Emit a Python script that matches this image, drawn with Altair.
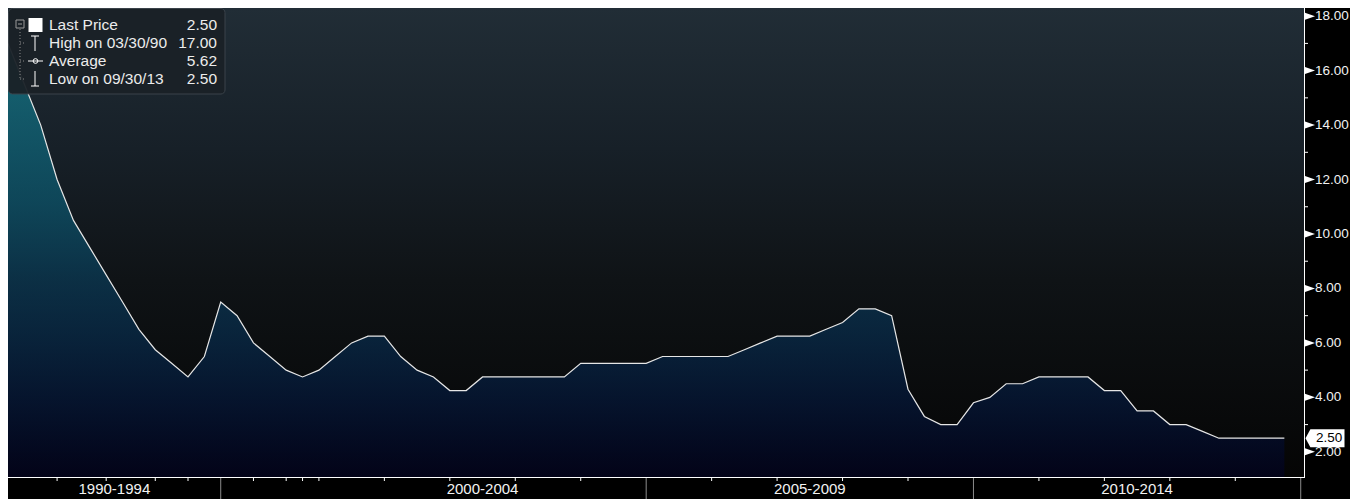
import altair as alt
import pandas as pd

# ---------------- data ----------------
rate = [17.0, 15.5, 14.0, 12.0, 10.5, 9.5, 8.5, 7.5, 6.5, 5.75,
        5.25, 4.75, 5.5, 7.5, 7.0, 6.0, 5.5, 5.0, 4.75, 5.0,
        5.5, 6.0, 6.25, 6.25, 5.5, 5.0, 4.75, 4.25, 4.25, 4.75,
        4.75, 4.75, 4.75, 4.75, 4.75, 5.25, 5.25, 5.25, 5.25, 5.25,
        5.5, 5.5, 5.5, 5.5, 5.5, 5.75, 6.0, 6.25, 6.25, 6.25,
        6.5, 6.75, 7.25, 7.25, 7.0, 4.3, 3.3, 3.0, 3.0, 3.8,
        4.0, 4.5, 4.5, 4.75, 4.75, 4.75, 4.75, 4.25, 4.25, 3.5,
        3.5, 3.0, 3.0, 2.75, 2.5, 2.5, 2.5, 2.5, 2.5]
obs = list(range(len(rate)))

y_ticks = [2, 4, 6, 8, 10, 12, 14, 16, 18]
y_minor = [3, 5, 7, 9, 11, 13, 15, 17]
sep_idx = [13, 39, 59, 79]
minor_idx = [3, 6, 9, 11, 15, 17, 18, 19, 23, 27, 31, 35, 43, 47, 51, 55, 63, 67, 71, 75]
period_labels = ["1990-1994", "2000-2004", "2005-2009", "2010-2014"]
period_centers = [6.5, 29, 49, 69]

legend_labels = ["Last Price", "High on 03/30/90", "Average", "Low on 09/30/13"]
legend_values = ["2.50", "17.00", "5.62", "2.50"]
last_price = 2.50

# ---------------- layout ----------------
W, H = 1296, 469
FONT = "Liberation Sans"
YMIN, YMAX = 1.075, 18.3
xs = alt.Scale(domain=[0, 79.2], nice=False, zero=False)
ys = alt.Scale(domain=[YMIN, YMAX], nice=False, zero=False)
one = pd.DataFrame({"d": [0]})

bg_grad = alt.LinearGradient(
    gradient="linear", x1=0, x2=0, y1=0, y2=1,
    stops=[alt.GradientStop(color="#212d36", offset=0),
           alt.GradientStop(color="#172028", offset=0.3),
           alt.GradientStop(color="#0f1316", offset=0.58),
           alt.GradientStop(color="#050505", offset=1)])

area_grad = alt.LinearGradient(
    gradient="linear", x1=0, x2=0, y1=0, y2=1,
    stops=[alt.GradientStop(color="#168592", offset=0),
           alt.GradientStop(color="#117486", offset=0.12),
           alt.GradientStop(color="#0c5870", offset=0.37),
           alt.GradientStop(color="#0a3b58", offset=0.55),
           alt.GradientStop(color="#072a4b", offset=0.69),
           alt.GradientStop(color="#04173a", offset=0.83),
           alt.GradientStop(color="#020220", offset=1)])

bg = alt.Chart(one).mark_rect(fill=bg_grad).encode(
    x=alt.value(0), x2=alt.value(W), y=alt.value(0), y2=alt.value(H))

df = pd.DataFrame({"i": obs, "rate": rate})
area = alt.Chart(df).mark_area(
    fill=area_grad,
    line=alt.OverlayMarkDef(color="#e6e6e6", strokeWidth=1.2),
).encode(
    x=alt.X("i:Q", scale=xs, axis=None),
    y=alt.Y("rate:Q", scale=ys, axis=None),
    y2=alt.datum(YMIN),
)

# axis lines
right_line = alt.Chart(one).mark_rule(color="#ffffff", strokeWidth=1).encode(
    x=alt.value(W + 0.5), y=alt.value(0), y2=alt.value(H))
bottom_line = alt.Chart(one).mark_rule(color="#ffffff", strokeWidth=1).encode(
    x=alt.value(0), x2=alt.value(W + 1), y=alt.value(H + 0.5))

tickdf = pd.DataFrame({"t": y_ticks, "lab": [f"{t:.2f}" for t in y_ticks]})
tri = alt.Chart(tickdf).mark_point(
    shape="M-1,-0.7L1,0L-1,0.7Z", filled=True, color="#ffffff", size=100, opacity=1
).encode(x=alt.value(W + 6), y=alt.Y("t:Q", scale=ys, axis=None))
ylabels = alt.Chart(tickdf).mark_text(
    font=FONT, fontSize=13.5, color="#f2f2f2", align="left", baseline="middle"
).encode(x=alt.value(W + 11), y=alt.Y("t:Q", scale=ys, axis=None), text="lab:N")

ymin_ticks = alt.Chart(pd.DataFrame({"t": y_minor})).mark_rule(color="#ffffff").encode(
    x=alt.value(W + 1), x2=alt.value(W + 4), y=alt.Y("t:Q", scale=ys, axis=None))

seps = alt.Chart(pd.DataFrame({"s": sep_idx})).mark_rule(color="#8c8c8c").encode(
    x=alt.X("s:Q", scale=xs, axis=None), y=alt.value(H + 1), y2=alt.value(H + 30))

xmin_ticks = alt.Chart(pd.DataFrame({"s": minor_idx})).mark_rule(color="#ffffff").encode(
    x=alt.X("s:Q", scale=xs, axis=None), y=alt.value(H + 1), y2=alt.value(H + 4))

xlabels = alt.Chart(pd.DataFrame({"c": period_centers, "lab": period_labels})).mark_text(
    font=FONT, fontSize=15, color="#f2f2f2", align="center", baseline="middle"
).encode(x=alt.X("c:Q", scale=xs, axis=None), y=alt.value(H + 12), text="lab:N")

# last price tag
tagdf = pd.DataFrame({"v": [last_price], "lab": [f"{last_price:.2f}"]})
tag = alt.Chart(tagdf).mark_point(
    shape="M-1,0L-0.75,-0.46L1,-0.46L1,0.46L-0.75,0.46Z", filled=True, color="#ffffff",
    size=1521, opacity=1
).encode(x=alt.value(W + 21), y=alt.Y("v:Q", scale=ys, axis=None))
tagtext = alt.Chart(tagdf).mark_text(
    font=FONT, fontSize=13.5, color="#000000", align="left", baseline="middle"
).encode(x=alt.value(W + 12), y=alt.Y("v:Q", scale=ys, axis=None), text="lab:N")

layers = [bg, area, right_line, bottom_line, tri, ylabels, ymin_ticks, seps,
          xmin_ticks, xlabels]

# legend box
box = alt.Chart(one).mark_rect(fill="#1a2127", opacity=0.95, stroke="#3c444c",
                               strokeWidth=1, cornerRadius=4).encode(
    x=alt.value(0.5), x2=alt.value(217), y=alt.value(0.5), y2=alt.value(86))
layers.append(box)


def rule(x1, x2, y1, y2, color="#ffffff", dash=None, width=1):
    kw = dict(color=color, strokeWidth=width)
    if dash:
        kw["strokeDash"] = dash
    return alt.Chart(one).mark_rule(**kw).encode(
        x=alt.value(x1), x2=alt.value(x2), y=alt.value(y1), y2=alt.value(y2))


row_y = [17 + 18 * k for k in range(len(legend_labels))]
# tree lines
layers.append(rule(12, 12, 21, row_y[3], color="#8a8a8a", dash=[1, 2]))
for ry in row_y[1:]:
    layers.append(rule(12, 18, ry, ry, color="#8a8a8a", dash=[1, 2]))
# collapse box
layers.append(alt.Chart(one).mark_point(shape="square", size=64, color="#9a9a9a",
                                        strokeWidth=1, filled=False, opacity=1).encode(
    x=alt.value(12), y=alt.value(16)))
layers.append(rule(10, 14, 16, 16, color="#9a9a9a"))
# white square
layers.append(alt.Chart(one).mark_point(shape="square", size=196, color="#ffffff",
                                        filled=True, opacity=1).encode(
    x=alt.value(27.5), y=alt.value(row_y[0])))
# high glyph
layers.append(rule(23, 31, row_y[1] - 7, row_y[1] - 7))
layers.append(rule(27, 27, row_y[1] - 7, row_y[1] + 8))
# average glyph
layers.append(rule(20, 35, row_y[2], row_y[2]))
layers.append(alt.Chart(one).mark_point(shape="circle", size=22, color="#ffffff",
                                        filled=False, strokeWidth=1,
                                        opacity=1).encode(
    x=alt.value(27.5), y=alt.value(row_y[2])))
# low glyph
layers.append(rule(27, 27, row_y[3] - 8, row_y[3] + 7))
layers.append(rule(23, 31, row_y[3] + 7, row_y[3] + 7))

for k, (lab, val) in enumerate(zip(legend_labels, legend_values)):
    tdf = pd.DataFrame({"lab": [lab], "val": [val]})
    layers.append(alt.Chart(tdf).mark_text(font=FONT, fontSize=15.5, color="#ececec",
                                           align="left", baseline="middle").encode(
        x=alt.value(41), y=alt.value(row_y[k]), text="lab:N"))
    layers.append(alt.Chart(tdf).mark_text(font=FONT, fontSize=15.5, color="#ececec",
                                           align="right", baseline="middle").encode(
        x=alt.value(209), y=alt.value(row_y[k]), text="val:N"))

layers += [tag, tagtext]

chart = alt.layer(*layers).properties(
    width=W, height=H,
    autosize=alt.AutoSizeParams(type="none"),
    padding={"left": 0, "top": 0, "right": 46, "bottom": 22},
    background="#000000",
).configure_view(stroke=None)

chart.save("out.html", embed_options={"renderer": "svg", "actions": False})
